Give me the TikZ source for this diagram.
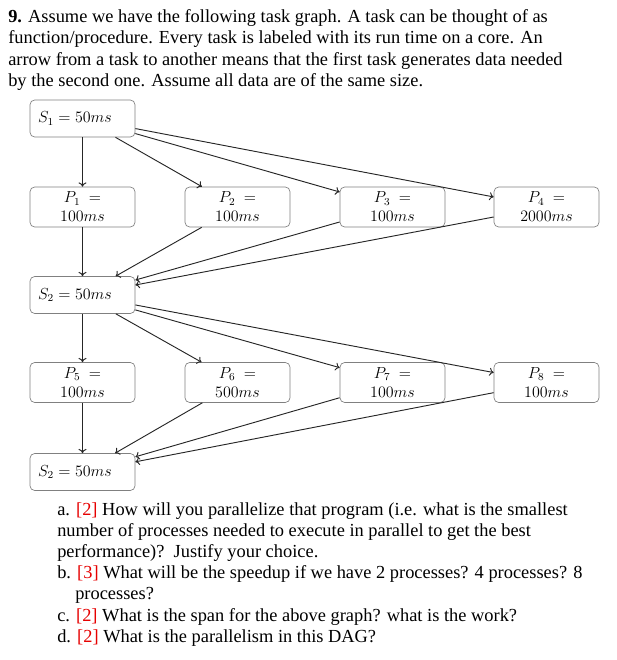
\documentclass[tikz,border=0pt]{standalone}
\usepackage[no-math]{fontspec}
\setmainfont{Liberation Serif}
\usetikzlibrary{arrows.meta}
\definecolor{qred}{RGB}{230,0,0}
\newcommand{\pts}[1]{\textcolor{qred}{[#1]}}
\begin{document}
\begin{tikzpicture}[x=0.75pt,y=-0.75pt,
  box/.style={draw=black!50, rounded corners=3.5pt, line width=0.5pt, minimum width=78.75pt, inner ysep=0pt, font=\fontsize{12}{14.25}\selectfont},
  pbox/.style={box, minimum height=30pt, inner xsep=0pt, align=center},
  sbox/.style={box, minimum height=27.75pt, inner xsep=6pt, text width=66.75pt, align=left},
  edge/.style={-{To[length=3.2pt,width=6pt]}, line width=0.7pt, black!85},
  txt/.style={anchor=base west, inner sep=0pt, font=\fontsize{13.8}{16}\selectfont}]
\useasboundingbox (0,0) rectangle (617,660);
% header text
\node[txt] (h1) at (8,23) {\textbf{9.} Assume we have the following task graph. A task can be thought of as};
\node[txt] (h2) at (8,44) {function/procedure. Every task is labeled with its run time on a core. An};
\node[txt] (h3) at (8,65) {arrow from a task to another means that the first task generates data needed};
\node[txt] (h4) at (8,86) {by the second one. Assume all data are of the same size.};
% boxes
\node[sbox] (S1) at (82.5,118.5) {$S_1 = 50ms$};
\node[pbox] (P1) at (82.5,207) {$P_1\ =$\\$100ms$};
\node[pbox] (P2) at (237.5,207) {$P_2\ =$\\$100ms$};
\node[pbox] (P3) at (392.5,207) {$P_3\ =$\\$100ms$};
\node[pbox] (P4) at (546.5,207) {$P_4\ =$\\$2000ms$};
\node[sbox] (S2) at (82.5,295) {$S_2 = 50ms$};
\node[pbox] (P5) at (82.5,382.5) {$P_5\ =$\\$100ms$};
\node[pbox] (P6) at (237.5,382.5) {$P_6\ =$\\$500ms$};
\node[pbox] (P7) at (392.5,382.5) {$P_7\ =$\\$100ms$};
\node[pbox] (P8) at (546.5,382.5) {$P_8\ =$\\$100ms$};
\node[sbox] (S3) at (82.5,472) {$S_2 = 50ms$};
% edges
\foreach \p in {P1,P2,P3,P4}{\draw[edge] (S1) -- (\p); \draw[edge] (\p) -- (S2);}
\foreach \p in {P5,P6,P7,P8}{\draw[edge] (S2) -- (\p); \draw[edge] (\p) -- (S3);}
% questions
\node[txt] (qa1) at (57,515) {a. \pts{2} How will you parallelize that program (i.e. what is the smallest};
\node[txt] (qa2) at (57,536) {number of processes needed to execute in parallel to get the best};
\node[txt] (qa3) at (57,557) {performance)?\ \ Justify your choice.};
\node[txt] (qb1) at (57,578) {b. \pts{3} What will be the speedup if we have 2 processes? 4 processes? 8};
\node[txt] (qb2) at (75,599) {processes?};
\node[txt] (qc) at (57,621) {c. \pts{2} What is the span for the above graph? what is the work?};
\node[txt] (qd) at (57,642) {d. \pts{2} What is the parallelism in this DAG?};
\end{tikzpicture}
\end{document}
